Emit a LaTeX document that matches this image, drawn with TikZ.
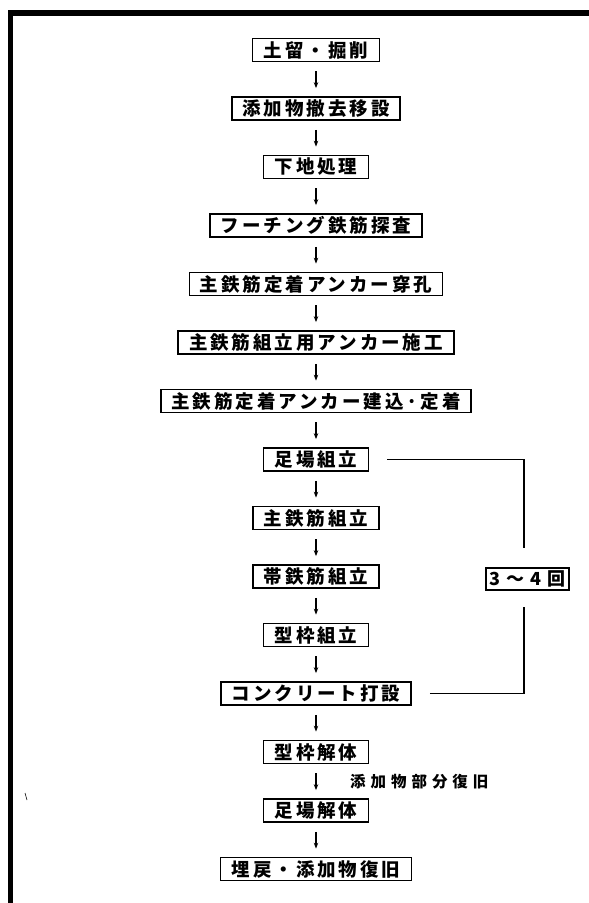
\documentclass[tikz,border=0pt]{standalone}
\usepackage{fontspec}
\newfontfamily\jp[LetterSpace=16]{Noto Sans CJK JP}
\newfontfamily\jpl[LetterSpace=32]{Noto Sans CJK JP}
\newfontfamily\jpc[LetterSpace=10]{Noto Sans CJK JP}
\usetikzlibrary{arrows.meta,calc}
\tikzset{
  stepbox/.style={draw, line width=1.7pt, minimum height=23pt, inner sep=0pt,
    font=\jp\bfseries\fontsize{18.5}{18.5}\selectfont},
  flow/.style={line width=1.2pt, -{Stealth[length=6pt,width=4.5pt]}},
  loopline/.style={line width=1.4pt},
  frameline/.style={fill=black}
}
\begin{document}
\begin{tikzpicture}[x=1pt,y=-1pt]
\useasboundingbox (0,0) rectangle (589,903);
% frame
\fill[frameline] (8,10) rectangle (589,16);
\fill[frameline] (8,10) rectangle (13,903);
\draw[line width=0.6pt] (25,793) -- (27,800);
% steps
\node[stepbox, minimum width=127pt] (n1)  at (316,50)    {土留・掘削};
\node[stepbox, minimum width=168pt] (n2)  at (316,108.5) {添加物撤去移設};
\node[stepbox, minimum width=105pt] (n3)  at (316,167)   {下地処理};
\node[stepbox, minimum width=212pt] (n4)  at (316,225.5) {フーチング鉄筋探査};
\node[stepbox, minimum width=253pt] (n5)  at (316,284)   {主鉄筋定着アンカー穿孔};
\node[stepbox, minimum width=276pt] (n6)  at (316,342.5) {主鉄筋組立用アンカー施工};
\node[stepbox, minimum width=310pt] (n7)  at (316,401)   {主鉄筋定着アンカー建込·定着};
\node[stepbox, minimum width=105pt] (n8)  at (316,459.5) {足場組立};
\node[stepbox, minimum width=126pt] (n9)  at (316,518)   {主鉄筋組立};
\node[stepbox, minimum width=126pt] (n10) at (316,576.5) {帯鉄筋組立};
\node[stepbox, minimum width=105pt] (n11) at (316,635)   {型枠組立};
\node[stepbox, minimum width=190pt] (n12) at (316,693.5) {コンクリート打設};
\node[stepbox, minimum width=105pt] (n13) at (316,752)   {型枠解体};
\node[stepbox, minimum width=105pt] (n14) at (316,810.5) {足場解体};
\node[stepbox, minimum width=191pt] (n15) at (316,869)   {埋戻・添加物復旧};
% arrows
\foreach \a/\b in {n1/n2,n2/n3,n3/n4,n4/n5,n5/n6,n6/n7,n7/n8,n8/n9,n9/n10,n10/n11,n11/n12,n12/n13,n13/n14,n14/n15}
  \draw[flow] ($(\a.south)+(0,9)$) -- ($(\b.north)+(0,-8)$);
% side label
\node[font=\jpl\bfseries\fontsize{15.5}{15.5}\selectfont, anchor=west, inner sep=0pt] (lab) at (350,782) {添加物部分復旧};
% loop
\node[stepbox, line width=1.8pt, minimum width=83pt, minimum height=22pt,
  font=\jpc\bfseries\fontsize{18}{18}\selectfont] (cnt) at (527.5,579) {3 ～ 4 回};
\coordinate (ca) at (524,548);
\coordinate (cb) at (524,607);
\draw[loopline] (n8.east) ++(18,0) -| (ca);
\draw[loopline] (n12.east) ++(18,0) -| (cb);
\end{tikzpicture}
\end{document}
